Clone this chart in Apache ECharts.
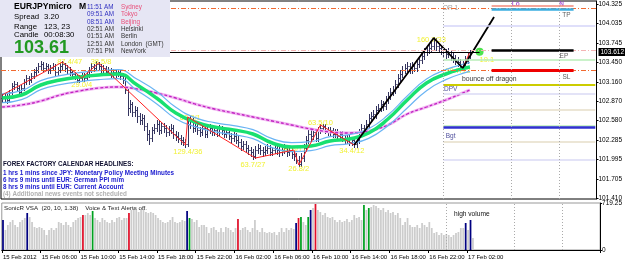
<!DOCTYPE html>
<html>
<head>
<meta charset="utf-8">
<script src="https://cdn.jsdelivr.net/npm/echarts@6/dist/echarts.min.js"></script>
<style>
html, body { margin: 0; padding: 0; background: #fff; }
#main { width: 625px; height: 264px; }
</style>
</head>
<body>
<div id="main"></div>
<script>
// M15 bars, 15 Feb 2012 02:00 .. 17 Feb 2012 02:30
const closes = [
102.92,102.95,102.89,103.01,103.10,103.13,103.07,103.01,103.07,103.16,
103.22,103.19,103.25,103.31,103.34,103.40,103.43,103.37,103.40,103.34,
103.37,103.40,103.31,103.34,103.40,103.43,103.37,103.34,103.31,103.28,
103.25,103.19,103.22,103.25,103.22,103.28,103.34,103.40,103.37,103.43,
103.40,103.34,103.37,103.31,103.34,103.28,103.31,103.28,103.31,103.25,
103.19,103.04,102.77,102.83,102.71,102.74,102.65,102.59,102.62,102.50,
102.38,102.32,102.44,102.47,102.53,102.44,102.50,102.47,102.41,102.44,
102.47,102.38,102.35,102.32,102.29,102.26,102.23,102.53,102.59,102.47,
102.50,102.44,102.41,102.47,102.38,102.44,102.47,102.41,102.44,102.41,
102.47,102.44,102.38,102.41,102.35,102.32,102.35,102.29,102.26,102.20,
102.23,102.17,102.14,102.11,102.05,102.14,102.17,102.14,102.11,102.14,
102.17,102.11,102.14,102.17,102.14,102.11,102.14,102.17,102.11,102.14,
102.08,102.05,101.99,101.93,102.02,102.17,102.29,102.38,102.35,102.41,
102.32,102.44,102.47,102.50,102.44,102.41,102.44,102.38,102.41,102.35,
102.38,102.32,102.29,102.32,102.26,102.29,102.23,102.29,102.41,102.47,
102.44,102.53,102.62,102.65,102.68,102.74,102.77,102.83,102.80,102.89,
102.95,103.01,103.04,103.13,103.22,103.28,103.34,103.37,103.40,103.34,
103.40,103.37,103.43,103.49,103.55,103.61,103.64,103.67,103.70,103.79,
103.70,103.67,103.64,103.61,103.58,103.61,103.55,103.52,103.49,103.46,
103.43,103.40,103.49,103.55,103.61
];
const highs = [
102.98,102.995,102.98,103.04,103.145,103.175,103.16,103.10,103.115,103.205,
103.265,103.25,103.295,103.355,103.385,103.445,103.475,103.46,103.445,103.43,
103.415,103.445,103.43,103.385,103.445,103.475,103.445,103.415,103.385,103.34,
103.31,103.28,103.265,103.295,103.295,103.325,103.385,103.445,103.43,103.475,
103.46,103.43,103.415,103.40,103.385,103.37,103.355,103.34,103.355,103.34,
103.295,103.25,103.07,102.89,102.86,102.80,102.785,102.695,102.68,102.665,
102.545,102.44,102.485,102.53,102.59,102.575,102.56,102.545,102.515,102.50,
102.53,102.515,102.425,102.41,102.365,102.335,102.305,102.635,102.65,102.62,
102.56,102.545,102.485,102.515,102.50,102.485,102.53,102.515,102.485,102.485,
102.515,102.50,102.485,102.455,102.455,102.395,102.41,102.395,102.35,102.305,
102.275,102.275,102.215,102.185,102.155,102.20,102.23,102.215,102.185,102.20,
102.23,102.215,102.185,102.215,102.215,102.185,102.20,102.23,102.215,102.20,
102.185,102.125,102.095,102.05,102.095,102.23,102.35,102.44,102.44,102.47,
102.455,102.485,102.53,102.53,102.53,102.485,102.485,102.47,102.455,102.455,
102.425,102.425,102.365,102.365,102.365,102.335,102.335,102.335,102.455,102.53,
102.515,102.59,102.68,102.71,102.74,102.80,102.83,102.89,102.875,102.95,
103.01,103.07,103.10,103.19,103.28,103.34,103.40,103.43,103.46,103.445,
103.46,103.445,103.49,103.55,103.61,103.67,103.70,103.73,103.76,103.835,
103.82,103.745,103.715,103.685,103.655,103.67,103.64,103.595,103.565,103.535,
103.505,103.475,103.55,103.61,103.64
];
const lows = [
102.86,102.875,102.845,102.86,102.98,103.055,103.025,102.95,102.98,103.04,
103.13,103.13,103.16,103.22,103.265,103.31,103.355,103.325,103.34,103.295,
103.295,103.34,103.265,103.265,103.31,103.355,103.325,103.295,103.265,103.235,
103.205,103.16,103.16,103.19,103.175,103.19,103.235,103.31,103.325,103.34,
103.355,103.295,103.295,103.265,103.265,103.235,103.235,103.235,103.25,103.205,
103.145,102.995,102.665,102.71,102.65,102.65,102.56,102.53,102.53,102.44,
102.29,102.23,102.275,102.395,102.425,102.38,102.395,102.41,102.35,102.365,
102.395,102.32,102.29,102.26,102.23,102.215,102.185,102.20,102.47,102.41,
102.425,102.38,102.35,102.365,102.335,102.335,102.395,102.365,102.365,102.35,
102.365,102.38,102.335,102.335,102.305,102.26,102.275,102.245,102.20,102.14,
102.155,102.11,102.08,102.05,102.005,102.02,102.095,102.08,102.05,102.065,
102.095,102.065,102.065,102.095,102.08,102.05,102.065,102.095,102.05,102.065,
102.02,101.99,101.945,101.90,101.90,101.975,102.125,102.245,102.29,102.305,
102.275,102.275,102.395,102.425,102.395,102.365,102.365,102.335,102.335,102.305,
102.305,102.275,102.245,102.245,102.215,102.215,102.185,102.185,102.245,102.365,
102.395,102.395,102.485,102.575,102.605,102.62,102.695,102.725,102.74,102.755,
102.845,102.905,102.965,102.995,103.085,103.175,103.235,103.295,103.325,103.295,
103.295,103.325,103.325,103.385,103.445,103.505,103.565,103.595,103.625,103.655,
103.64,103.61,103.58,103.55,103.52,103.535,103.49,103.46,103.43,103.40,
103.37,103.355,103.37,103.445,103.52
];
const volumes = [
459,306,383,428,459,383,352,428,459,490,
566,505,428,352,337,352,337,306,230,306,
337,306,337,428,413,383,428,383,352,428,
459,490,505,536,536,566,536,597,490,459,
428,490,459,428,413,459,428,490,505,459,
490,490,566,612,643,612,581,612,627,581,
566,581,566,536,490,459,428,413,428,459,
505,428,413,428,459,444,597,490,474,428,
459,352,383,383,352,260,337,352,306,275,
337,275,352,337,306,275,337,474,306,337,
352,306,275,337,459,306,275,337,275,260,
275,260,275,230,275,337,275,337,306,337,
321,413,490,505,428,383,505,612,643,704,
612,581,536,566,505,490,505,459,428,459,
428,444,474,428,459,536,490,505,459,689,
612,643,658,689,673,643,612,643,581,612,
566,581,536,566,490,383,428,490,383,352,
352,383,337,413,383,352,428,337,260,275,
230,260,230,245,230,199,230,260,275,337,
337,413,306,459,184
];
const blueVol = [0, 10, 76, 121, 127, 191, 193];
const redVol = [33, 52, 97, 122, 129];
const greenVol = [37, 77, 123, 126, 149, 151];

// indicator lines (every 8th bar)
const maIdx = [0,8,16,24,32,40,48,56,64,72,80,88,96,104,112,120,128,136,144,152,160,168,176,184,192,194];
const dragonMid = [102.92,102.965,103.115,103.19,103.235,103.265,103.28,103.115,102.92,102.695,102.56,102.485,102.44,102.38,102.245,102.185,102.20,102.275,102.305,102.395,102.605,102.89,103.145,103.28,103.37,103.385];
const dragonHi = [102.985,103.03,103.18,103.255,103.30,103.33,103.345,103.20,103.02,102.78,102.625,102.55,102.505,102.445,102.31,102.25,102.265,102.34,102.37,102.46,102.665,102.95,103.205,103.345,103.435,103.45];
const dragonLo = [102.85,102.895,103.045,103.12,103.165,103.195,103.21,103.03,102.835,102.61,102.49,102.415,102.37,102.31,102.175,102.115,102.13,102.205,102.235,102.315,102.505,102.77,103.03,103.195,103.30,103.315];
const ema89 = [102.785,102.815,102.875,102.965,103.025,103.07,103.085,103.055,102.995,102.92,102.83,102.755,102.695,102.635,102.575,102.515,102.455,102.41,102.395,102.425,102.515,102.68,102.785,102.89,103.01,103.04];

const zzIdx = [0,25,33,40,76,77,105,121,123,132,146,179,191,194];
const zzVal = [102.965,103.46,103.22,103.445,102.215,102.635,102.02,102.14,101.915,102.515,102.215,103.82,103.37,103.61];
const trendIdx = [146,179,191,204];
const trendVal = [102.215,103.82,103.37,104.135];

const pivotTagText = ['87.4/47','29.0/4','38.5/8','129.4/36','63.2/1','63.7/27','36.6/17','26.8/2','63.5/10','34.4/12','160.7/33','30.7/12','19.1'];
const pivotTagIdx = [28,33,41,77,78,104,121,123,132,145,178,189,201];
const pivotTagVal = [103.46,103.115,103.46,102.11,102.62,101.915,102.14,101.855,102.545,102.125,103.79,103.325,103.49];

const levelTagText = ['OR 1','Lo','N','TP','EP','SL','bounce off dragon','DPV','Bgt'];
const levelTagIdx = [186,213,232,234,233,234,202,186,186];
const levelTagVal = [104.27,104.32,104.32,104.165,103.55,103.235,103.205,103.055,102.35];

const orangeLevels = [104.27, 103.325];
const pinkLevel = 103.63;
const lastPrice = 103.612;
const pivotLevels = [104.0, 103.49, 103.115, 102.98, 102.74, 102.50, 102.4775, 102.26, 101.99];
const tradeLevels = [104.30, 104.255, 103.64, 103.34];
const priceTicks = [101.410,101.705,101.995,102.285,102.580,102.870,103.160,103.450,103.745,104.035,104.325];
const volTicks = [0, 719.25];
const timeLabels = ['15 Feb 2012','15 Feb 06:00','15 Feb 10:00','15 Feb 14:00','15 Feb 18:00','15 Feb 22:00','16 Feb 02:00','16 Feb 06:00','16 Feb 10:00','16 Feb 14:00','16 Feb 18:00','16 Feb 22:00','17 Feb 02:00'];
const barsPerLabel = 16;
const slotCount = 247;

const slots = Array.from({length: slotCount}, (_, i) => String(i));
const ohlc = closes.map((c, i) => [i, i === 0 ? c : closes[i - 1], c, lows[i], highs[i]]);
const pairs = (xs, ys) => xs.map((x, k) => [x, ys[k]]);

const volData = volumes.map((v, i) => {
    let color = '#cccccc';
    if (blueVol.includes(i)) color = '#000080';
    if (redVol.includes(i)) color = '#e0102a';
    if (greenVol.includes(i)) color = '#00a020';
    return {value: v, itemStyle: {color: color}};
});

const pivotColors = ['#d4d4f8','#b8eeb8','#cccc00','#dadaf4','#e6dec8','#b8eeb8','#3030d0','#e6dec8','#dadaf4'];
const pivotWidths = [1.5,1.5,2,1.5,1.5,1.5,2.5,1.5,1.5];
const tradeColors = ['#f08878','#3aaee0','#000','#ee0000'];
const tradeWidths = [1.5,2.5,2.5,3];
const levelTagColors = ['#888','#9933cc','#9933cc','#333','#333','#333','#000','#1a1a80','#1a1a80'];

const levelLines = [];
orangeLevels.forEach(v => levelLines.push({yAxis: v, lineStyle: {color: '#f06a30', width: 1, type: [5, 2, 1, 2]}}));
levelLines.push({yAxis: pinkLevel, lineStyle: {color: '#f4b4b4', width: 1, type: [5, 2, 1, 2]}});
levelLines.push([{coord: [0, lastPrice], lineStyle: {color: '#000', width: 1, type: 'solid'}}, {coord: [198, lastPrice]}]);
levelLines.push({yAxis: lastPrice, lineStyle: {color: 'transparent', width: 0},
    label: {show: true, position: 'end', distance: 2, formatter: lastPrice.toFixed(3), color: '#fff',
        backgroundColor: '#000', padding: [1, 2, 0, 2], fontSize: 6.5, fontFamily: 'Liberation Sans'}});
pivotLevels.forEach((v, k) => levelLines.push([{coord: [183, v], lineStyle: {color: pivotColors[k], width: pivotWidths[k], type: 'solid'}}, {coord: [246, v]}]));
tradeLevels.forEach((v, k) => levelLines.push([{coord: [203, v], lineStyle: {color: tradeColors[k], width: tradeWidths[k], type: 'solid'}}, {coord: [237, v]}]));
const sepLines = [183, 211, 231].map(x => ({xAxis: x}));

const tagFont = 'Liberation Sans';
const tagData = [];
pivotTagText.forEach((t, k) => tagData.push({value: [pivotTagIdx[k], pivotTagVal[k]], text: t,
    label: {color: '#eeee00', fontSize: 7.5}}));
levelTagText.forEach((t, k) => tagData.push({value: [levelTagIdx[k], levelTagVal[k]], text: t,
    label: {color: levelTagColors[k], fontSize: k === 6 ? 6.8 : 6.5, fontWeight: (k === 1 || k === 2) ? 'bold' : 'normal'}}));

const chart = echarts.init(document.getElementById('main'), null, {renderer: 'canvas'});

const txt = (x, y, s, opt) => Object.assign({type: 'text', x: x, y: y, z: 101,
    style: Object.assign({text: s, fill: '#000', font: '6px "Liberation Sans"', textVerticalAlign: 'middle'}, opt || {})});

const panelRows = [7, 14.5, 22, 29.3, 36.6, 44, 51.4];
const zoneTimes = ['11:51 AM','09:51 AM','08:51 AM','02:51 AM','01:51 AM','12:51 AM','07:51 PM'];
const zoneNames = ['Sydney','Tokyo','Beijing','Helsinki','Berlin','London  (GMT)','NewYork'];
const headlines = ['1 hrs 1 mins since JPY: Monetary Policy Meeting Minutes','6 hrs 9 mins until EUR: German PPI m/m','8 hrs 9 mins until EUR: Current Account'];

const graphics = [{type: 'rect', x: 0, y: 0, z: 100, shape: {width: 170, height: 57}, style: {fill: '#e6e6f4'}}];
graphics.push(txt(14, 7, 'EURJPYmicro', {font: 'bold 8.6px "Liberation Sans"'}));
graphics.push(txt(79, 7, 'M', {font: 'bold 8.6px "Liberation Sans"'}));
graphics.push(txt(14, 17, 'Spread', {font: '7.8px "Liberation Sans"'}));
graphics.push(txt(44, 17, '3.20', {font: '7.8px "Liberation Sans"'}));
graphics.push(txt(14, 27, 'Range', {font: '7.8px "Liberation Sans"'}));
graphics.push(txt(44, 27, '123, 23', {font: '7.8px "Liberation Sans"'}));
graphics.push(txt(14, 35, 'Candle', {font: '7.8px "Liberation Sans"'}));
graphics.push(txt(44, 35, '00:08:30', {font: '7.8px "Liberation Sans"'}));
graphics.push(txt(14, 48.5, '103.61', {font: 'bold 18px "Liberation Sans"', fill: '#229922'}));
zoneTimes.forEach((t, k) => {
    graphics.push(txt(87, panelRows[k], t, {font: '6.3px "Liberation Sans"', fill: k < 3 ? '#3030c0' : '#333'}));
    graphics.push(txt(121, panelRows[k], zoneNames[k], {font: '6.3px "Liberation Sans"', fill: k < 3 ? '#e8507a' : '#333'}));
});
graphics.push(txt(3, 164, 'FOREX FACTORY CALENDAR HEADLINES:', {font: 'bold 6.3px "Liberation Sans"', fill: '#101030'}));
headlines.forEach((h, k) => graphics.push(txt(3, 173 + 7 * k, h, {font: 'bold 6.3px "Liberation Sans"', fill: '#2020d0'})));
graphics.push(txt(3, 194, '(4) Additional news events not scheduled', {font: 'bold 6.3px "Liberation Sans"', fill: '#b0b0b0'}));
graphics.push(txt(4, 208, 'SonicR VSA  (20, 10, 1.38)    Voice & Text Alerts off.', {font: '6.2px "Liberation Sans"', fill: '#222'}));
graphics.push(txt(454, 214, 'high volume', {font: '6.6px "Liberation Sans"', fill: '#111'}));

const option = {
    animation: false,
    backgroundColor: '#fff',
    textStyle: {fontFamily: 'Liberation Sans'},
    grid: [
        {left: 1, right: 24, top: 1, height: 198, show: true, borderColor: '#000', borderWidth: 1},
        {left: 1, right: 24, top: 203, height: 47, show: true, borderColor: '#999', borderWidth: 1}
    ],
    xAxis: [
        {type: 'category', gridIndex: 0, data: slots, boundaryGap: true, show: false},
        {type: 'category', gridIndex: 1, data: slots, boundaryGap: true,
            axisLine: {lineStyle: {color: '#000'}},
            axisTick: {show: true, length: 3, interval: i => i % barsPerLabel === 0 && i / barsPerLabel < timeLabels.length, lineStyle: {color: '#000'}},
            axisLabel: {interval: i => i % barsPerLabel === 0 && i / barsPerLabel < timeLabels.length,
                formatter: (v, i) => timeLabels[i / barsPerLabel] || '', align: 'left', fontSize: 6, color: '#000', margin: 4}}
    ],
    yAxis: [
        {type: 'value', gridIndex: 0, position: 'right', min: 101.405, max: 104.375, splitLine: {show: false},
            axisLine: {show: true, lineStyle: {color: '#000'}},
            axisTick: {show: true, length: 2, customValues: priceTicks, lineStyle: {color: '#000'}},
            axisLabel: {customValues: priceTicks, formatter: v => v.toFixed(3), fontSize: 6.5, color: '#000', margin: 2}},
        {type: 'value', gridIndex: 1, position: 'right', min: 0, max: 719.25, splitLine: {show: false},
            axisLine: {show: true, lineStyle: {color: '#000'}},
            axisTick: {show: true, length: 2, customValues: volTicks, lineStyle: {color: '#000'}},
            axisLabel: {customValues: volTicks, formatter: v => v === 0 ? '0' : v.toFixed(2), fontSize: 6.5, color: '#000', margin: 2}}
    ],
    series: [
        {type: 'custom', name: 'price', xAxisIndex: 0, yAxisIndex: 0, data: ohlc, encode: {x: 0, y: [1, 2, 3, 4]},
            renderItem: (params, api) => {
                const i = api.value(0);
                const pO = api.coord([i, api.value(1)]);
                const pC = api.coord([i, api.value(2)]);
                const pL = api.coord([i, api.value(3)]);
                const pH = api.coord([i, api.value(4)]);
                const cx = Math.round(pL[0]) + 0.5;
                const st = {stroke: '#34345e', lineWidth: 1};
                return {type: 'group', children: [
                    {type: 'line', shape: {x1: cx, y1: Math.round(pH[1]), x2: cx, y2: Math.round(pL[1]) + 1}, style: st},
                    {type: 'line', shape: {x1: cx - 1.2, y1: Math.round(pO[1]) + 0.5, x2: cx, y2: Math.round(pO[1]) + 0.5}, style: st},
                    {type: 'line', shape: {x1: cx, y1: Math.round(pC[1]) + 0.5, x2: cx + 1.2, y2: Math.round(pC[1]) + 0.5}, style: st}
                ]};
            }},
        {type: 'line', name: 'levels', xAxisIndex: 0, yAxisIndex: 0, data: [], silent: true,
            markLine: {silent: true, symbol: 'none', label: {show: false}, data: levelLines.concat(sepLines.map(s => Object.assign({lineStyle: {color: '#aaa', type: [1, 2], width: 1}}, s)))}},
        {type: 'line', name: 'ema89 glow', xAxisIndex: 0, yAxisIndex: 0, data: pairs(maIdx, ema89), smooth: true, showSymbol: false,
            lineStyle: {color: '#f2b8f2', width: 3}},
        {type: 'line', name: 'ema89', xAxisIndex: 0, yAxisIndex: 0, data: pairs(maIdx, ema89), smooth: true, showSymbol: false,
            lineStyle: {color: '#c020c0', width: 1.3, type: [3, 2]}},
        {type: 'line', name: 'dragon hi', xAxisIndex: 0, yAxisIndex: 0, data: pairs(maIdx, dragonHi), smooth: true, showSymbol: false,
            lineStyle: {color: '#6ab4f4', width: 1.2}},
        {type: 'line', name: 'dragon lo', xAxisIndex: 0, yAxisIndex: 0, data: pairs(maIdx, dragonLo), smooth: true, showSymbol: false,
            lineStyle: {color: '#6ab4f4', width: 1.2}},
        {type: 'line', name: 'dragon', xAxisIndex: 0, yAxisIndex: 0, data: pairs(maIdx, dragonMid), smooth: true, showSymbol: false,
            lineStyle: {color: '#18e070', width: 3.5}},
        {type: 'line', name: 'zigzag', xAxisIndex: 0, yAxisIndex: 0, data: pairs(zzIdx, zzVal), showSymbol: false,
            lineStyle: {color: '#ff2020', width: 1}},
        {type: 'line', name: 'trend', xAxisIndex: 0, yAxisIndex: 0, data: pairs(trendIdx, trendVal), showSymbol: false,
            lineStyle: {color: '#000', width: 1.8}},
        {type: 'scatter', name: 'entry', xAxisIndex: 0, yAxisIndex: 0, data: [[198, lastPrice]], symbolSize: 8,
            itemStyle: {color: '#22dd22'}},
        {type: 'scatter', name: 'tags', xAxisIndex: 0, yAxisIndex: 0, data: tagData, symbolSize: 1,
            itemStyle: {color: 'transparent'},
            label: {show: true, position: 'inside', fontFamily: tagFont, formatter: p => p.data.text}},
        {type: 'bar', name: 'volume', xAxisIndex: 1, yAxisIndex: 1, data: volData, barWidth: '72%',
            markLine: {silent: true, symbol: 'none', label: {show: false},
                data: sepLines.map(s => Object.assign({lineStyle: {color: '#aaa', type: [1, 2], width: 1}}, s))}}
    ],
    graphic: graphics
};
chart.setOption(option);
</script>
</body>
</html>
